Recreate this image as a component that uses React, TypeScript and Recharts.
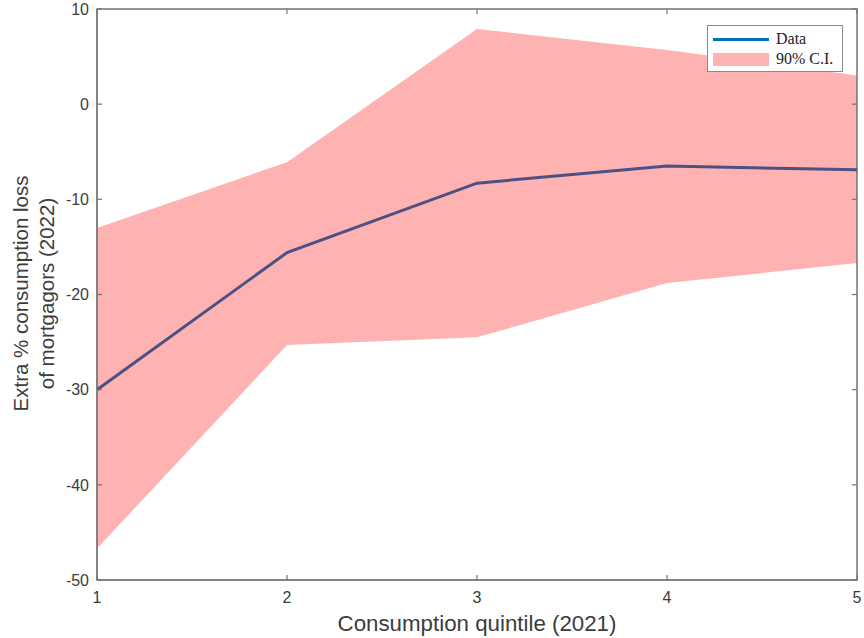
import { ComposedChart, Line, Area, XAxis, YAxis, ReferenceArea } from 'recharts';

// consumption quintiles (2021)
const quintiles = [1, 2, 3, 4, 5];
// point estimate, extra % consumption loss of mortgagors (2022)
const estimate = [-30.0, -15.6, -8.3, -6.5, -6.9];
// 90% confidence band
const ciLower = [-46.7, -25.3, -24.5, -18.8, -16.7];
const ciUpper = [-13.0, -6.1, 7.9, 5.7, 3.0];

const xTicks = [1, 2, 3, 4, 5];
const yTicks = [-50, -40, -30, -20, -10, 0, 10];

const AXIS = '#747474';
const TXT = '#3c3c3c';
const SANS = '"Liberation Sans", Arial, sans-serif';

const W = 864;
const H = 638;
const MARGIN = { top: 9, right: 7, bottom: 0, left: 0 };
const PLOT_TOP = MARGIN.top;
const PLOT_RIGHT = W - MARGIN.right;
const TICK_LEN = 5;
const X_GAP = 12;
const Y_GAP = 8;

const chartData = quintiles.map((q, i) => ({
  q,
  est: estimate[i],
  band: [ciLower[i], ciUpper[i]],
}));

// matlab style ticks: pointing inward, mirrored on the opposite side of the box
function XTick(props: any) {
  const { x, y, payload } = props;
  const axisY = y - X_GAP;
  return (
    <g>
      <line x1={x} x2={x} y1={axisY} y2={axisY - TICK_LEN} stroke={AXIS} strokeWidth={1.2} />
      <line x1={x} x2={x} y1={PLOT_TOP} y2={PLOT_TOP + TICK_LEN} stroke={AXIS} strokeWidth={1.2} />
      <text x={x} y={y} dy="0.71em" textAnchor="middle" fill={TXT} fontFamily={SANS} fontSize={16}>
        {payload.value}
      </text>
    </g>
  );
}

function YTick(props: any) {
  const { x, y, payload } = props;
  const axisX = x + Y_GAP;
  return (
    <g>
      <line x1={axisX} x2={axisX + TICK_LEN} y1={y} y2={y} stroke={AXIS} strokeWidth={1.2} />
      <line x1={PLOT_RIGHT} x2={PLOT_RIGHT - TICK_LEN} y1={y} y2={y} stroke={AXIS} strokeWidth={1.2} />
      <text x={x} y={y} dy="0.355em" textAnchor="end" fill={TXT} fontFamily={SANS} fontSize={16}>
        {payload.value}
      </text>
    </g>
  );
}

function YLabel(props: any) {
  const vb = props.viewBox || {};
  const cy = (vb.y ?? 9) + (vb.height ?? 571) / 2 - 1;
  return (
    <g fill={TXT} fontFamily={SANS} fontSize={20.5}>
      <text x={28} y={cy} textAnchor="middle" transform={`rotate(-90 28 ${cy})`}>
        Extra % consumption loss
      </text>
      <text x={54} y={cy} textAnchor="middle" transform={`rotate(-90 54 ${cy})`}>
        of mortgagors (2022)
      </text>
    </g>
  );
}

function XLabel(props: any) {
  const vb = props.viewBox || {};
  const cx = (vb.x ?? 97) + (vb.width ?? 760) / 2;
  return (
    <text x={cx} y={631} textAnchor="middle" fill={TXT} fontFamily={SANS} fontSize={22.3}>
      Consumption quintile (2021)
    </text>
  );
}

function LegendBox() {
  return (
    <div
      style={{
        position: 'absolute',
        left: 707,
        top: 25,
        border: '1px solid #8a8a8a',
        background: '#fff',
        padding: '3px 5px 2px',
        fontFamily: '"Liberation Serif", "Times New Roman", serif',
        fontSize: 16,
        color: '#222',
        lineHeight: '20px',
        width: 124,
      }}
    >
      <div style={{ display: 'flex', alignItems: 'center' }}>
        <div style={{ width: 56, height: 3, background: '#0072BD', marginRight: 7 }} />
        <span>Data</span>
      </div>
      <div style={{ display: 'flex', alignItems: 'center' }}>
        <div style={{ width: 56, height: 13, background: '#ffb3b3', marginRight: 7 }} />
        <span>90% C.I.</span>
      </div>
    </div>
  );
}

export default function App() {
  return (
    <div style={{ position: 'absolute', left: 0, top: 0, width: W, height: H, background: '#fff' }}>
      <ComposedChart width={W} height={H} data={chartData} margin={MARGIN}>
        <XAxis
          dataKey="q"
          type="number"
          domain={[1, 5]}
          ticks={xTicks}
          height={58}
          stroke={AXIS}
          tickLine={false}
          tickSize={0}
          tickMargin={X_GAP}
          tick={<XTick />}
          label={<XLabel />}
        />
        <YAxis
          type="number"
          domain={[-50, 10]}
          ticks={yTicks}
          width={97}
          stroke={AXIS}
          tickLine={false}
          tickSize={0}
          tickMargin={Y_GAP}
          tick={<YTick />}
          label={<YLabel />}
          allowDataOverflow
        />
        <Area
          dataKey="band"
          type="linear"
          stroke="none"
          fill="#ff0000"
          fillOpacity={0.3}
          isAnimationActive={false}
        />
        {/* blue line seen through the translucent band */}
        <Line
          dataKey="est"
          type="linear"
          stroke="#4c5084"
          strokeWidth={3}
          dot={false}
          isAnimationActive={false}
        />
        {/* axes box outline */}
        <ReferenceArea
          x1={1}
          x2={5}
          y1={-50}
          y2={10}
          fill="none"
          fillOpacity={0}
          stroke={AXIS}
          strokeWidth={1.5}
          strokeOpacity={1}
          ifOverflow="visible"
        />
      </ComposedChart>
      <LegendBox />
    </div>
  );
}
